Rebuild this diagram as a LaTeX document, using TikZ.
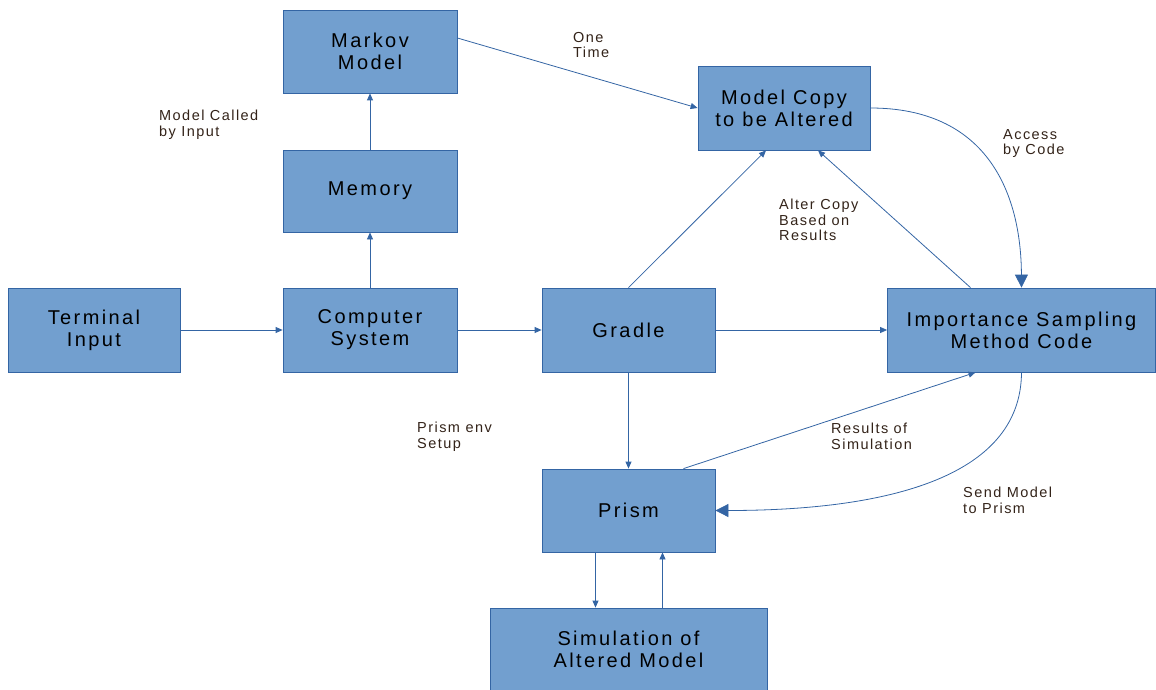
\documentclass[tikz,border=0pt]{standalone}
\usepackage{fontspec}
\setmainfont{Liberation Sans}
\newfontfamily\boxfont[LetterSpace=12]{Liberation Sans}
\newfontfamily\notefont[LetterSpace=10]{Liberation Sans}
\usetikzlibrary{arrows.meta}

\definecolor{boxfill}{HTML}{729FCF}
\definecolor{boxline}{HTML}{3465A4}
\definecolor{labtext}{RGB}{51,35,25}

\tikzset{
  block/.style={draw=boxline, fill=boxfill, line width=0.8pt, align=center,
    font=\boxfont\fontsize{20}{22}\selectfont, minimum width=174pt, minimum height=83pt, inner sep=0pt},
  link/.style={draw=boxline, line width=0.8pt, -{Triangle[length=7pt,width=6pt]}},
  biglink/.style={draw=boxline, line width=0.8pt, -{Triangle[length=13pt,width=13pt]}},
  note/.style={text=labtext, align=left, anchor=north west, inner sep=0pt,
    font=\notefont\fontsize{14.5}{15.5}\selectfont}
}

\begin{document}
\begin{tikzpicture}[x=1pt,y=-1pt]

\useasboundingbox (0,0) rectangle (1156,690);

\node[block] (markov) at (370,51.5) {Markov\\Model};
\node[block, minimum width=172pt, minimum height=84pt] (copy) at (784,108) {Model Copy\\to be Altered};
\node[block, minimum height=82pt] (memory) at (370,191) {Memory};
\node[block, minimum width=172pt, minimum height=84pt] (terminal) at (94,330) {Terminal\\Input};
\node[block, minimum height=84pt] (computer) at (370,330) {Computer\\System};
\node[block, minimum width=173pt, minimum height=84pt] (gradle) at (628.5,330) {Gradle};
\node[block, minimum width=268pt, minimum height=84pt] (imp) at (1021.5,330) {Importance Sampling\\Method Code};
\node[block, minimum width=173pt] (prism) at (628.5,510.5) {Prism};
\node[block, minimum width=277pt, minimum height=82pt] (sim) at (628.5,649) {Simulation of\\Altered Model};

\draw[link] (terminal) -- (computer);
\draw[link] (computer) -- (gradle);
\draw[link] (gradle) -- (imp);
\draw[link] (computer) -- (memory);
\draw[link] (memory) -- (markov);
\draw[link] ([yshift=13.5]markov.east) -- (copy.west);
\draw[link] (gradle.north) -- ([xshift=-18]copy.south);
\draw[link] ([xshift=-51]imp.north) -- ([xshift=34]copy.south);
\draw[biglink] (copy.east) .. controls (985,108) and (1021,190) .. (imp.north);
\draw[link] (gradle) -- (prism);
\draw[link] ([xshift=55]prism.north) -- ([xshift=-46]imp.south);
\draw[biglink] (imp.south) .. controls (1021,480) and (880,510.5) .. (prism.east);
\draw[link] ([xshift=-33]prism.south) -- ([xshift=-33]sim.north);
\draw[link] ([xshift=34]sim.north) -- ([xshift=34]prism.south);

\node[note] (onetime) at (573,32) {One\\Time};
\node[note] (called) at (159,110) {Model Called\\by Input};
\node[note] (access) at (1003,129) {Access\\by Code};
\node[note] (alter) at (779,199) {Alter Copy\\Based on\\Results};
\node[note] (setup) at (417,422) {Prism env\\Setup};
\node[note] (results) at (831,423) {Results of\\Simulation};
\node[note] (send) at (963,487) {Send Model\\to Prism};

\end{tikzpicture}
\end{document}
